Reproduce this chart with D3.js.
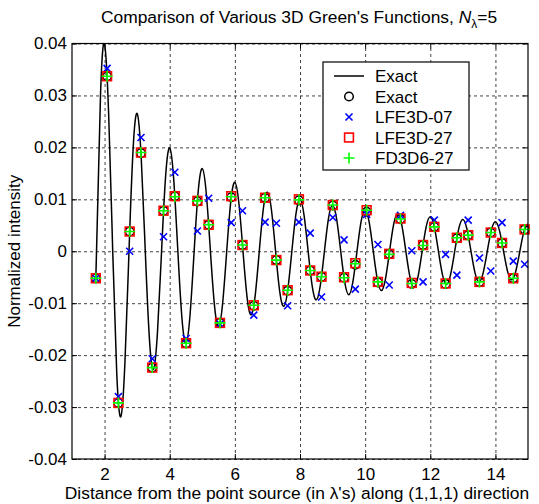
<!DOCTYPE html>
<html><head><meta charset="utf-8">
<script src="https://cdn.jsdelivr.net/npm/d3@7"></script>
<style>
body{margin:0;background:#fff}
svg{display:block}
text{font-family:"Liberation Sans",Arial,Helvetica,sans-serif;fill:#000}
</style>
</head><body>
<svg id="chart" width="539" height="504"></svg>
<script>
// ---------------- data ----------------
const xTicks = [2, 4, 6, 8, 10, 12, 14];
const xTickLabels = ["2", "4", "6", "8", "10", "12", "14"];
const yTicks = [-0.04, -0.03, -0.02, -0.01, 0, 0.01, 0.02, 0.03, 0.04];
const yTickLabels = ["-0.04", "-0.03", "-0.02", "-0.01", "0", "0.01", "0.02", "0.03", "0.04"];

// exact curve (continuous line)
const curveX = [1.732,
  1.875, 2, 2.125, 2.25, 2.375, 2.5, 2.625, 2.75,
  2.875, 3, 3.125, 3.25, 3.375, 3.5, 3.625, 3.75,
  3.875, 4, 4.125, 4.25, 4.375, 4.5, 4.625, 4.75,
  4.875, 5, 5.125, 5.25, 5.375, 5.5, 5.625, 5.75,
  5.875, 6, 6.125, 6.25, 6.375, 6.5, 6.625, 6.75,
  6.875, 7, 7.125, 7.25, 7.375, 7.5, 7.625, 7.75,
  7.875, 8, 8.125, 8.25, 8.375, 8.5, 8.625, 8.75,
  8.875, 9, 9.125, 9.25, 9.375, 9.5, 9.625, 9.75,
  9.875, 10, 10.125, 10.25, 10.375, 10.5, 10.625, 10.75,
  10.875, 11, 11.125, 11.25, 11.375, 11.5, 11.625, 11.75,
  11.875, 12, 12.125, 12.25, 12.375, 12.5, 12.625, 12.75,
  12.875, 13, 13.125, 13.25, 13.375, 13.5, 13.625, 13.75,
  13.875, 14, 14.125, 14.25, 14.375, 14.5, 14.625, 14.75,
  14.875, 15];
const curveY = [-0.00517,
  0.030011, 0.039789, 0.026480, 0, -0.023693, -0.031831, -0.021436, 0,
  0.019572, 0.026526, 0.018006, 0, -0.016673, -0.022736, -0.015523, 0,
  0.014521, 0.019894, 0.013641, 0, -0.012862, -0.017684, -0.012166, 0,
  0.011542, 0.015916, 0.010980, 0, -0.010469, -0.014469, -0.010003, 0,
  0.009578, 0.013263, 0.009187, 0, -0.008827, -0.012243, -0.008494, 0,
  0.008185, 0.011368, 0.007898, 0, -0.007630, -0.010610, -0.007380, 0,
  0.007145, 0.009947, 0.006926, 0, -0.006719, -0.009362, -0.006524, 0,
  0.006340, 0.008842, 0.006167, 0, -0.006002, -0.008377, -0.005846, 0,
  0.005698, 0.007958, 0.005558, 0, -0.005424, -0.007579, -0.005296, 0,
  0.005174, 0.007234, 0.005058, 0, -0.004947, -0.006920, -0.004840, 0,
  0.004739, 0.006631, 0.004641, 0, -0.004547, -0.006366, -0.004457, 0,
  0.004370, 0.006121, 0.004287, 0, -0.004207, -0.005895, -0.004130, 0,
  0.004056, 0.005684, 0.003984, 0, -0.003914, -0.005488, -0.003847, 0,
  0.003783, 0.005305];

// sample positions along (1,1,1)
const sampleX = [1.732, 2.078, 2.425, 2.771, 3.118, 3.464, 3.810, 4.157, 4.503, 4.850,
  5.196, 5.543, 5.889, 6.235, 6.582, 6.928, 7.275, 7.621, 7.967, 8.314,
  8.660, 9.007, 9.353, 9.699, 10.046, 10.392, 10.739, 11.085, 11.432, 11.778,
  12.124, 12.471, 12.817, 13.164, 13.510, 13.856, 14.203, 14.549, 14.896];
const exactPts = [-0.0052, 0.0337, -0.0292, 0.0038, 0.0189, -0.0224, 0.0078, 0.0106, -0.0177, 0.0096,
  0.0051, -0.0138, 0.0104, 0.0012, -0.0105, 0.0103, -0.0017, -0.0076, 0.0098, -0.0037,
  -0.0049, 0.0088, -0.0051, -0.0026, 0.0076, -0.0060, -0.0005, 0.0062, -0.0063, 0.0012,
  0.0047, -0.0063, 0.0025, 0.0031, -0.0059, 0.0036, 0.0016, -0.0052, 0.0042];
const lfe07 = [-0.0052, 0.0352, -0.0280, 0.0000, 0.0219, -0.0207, 0.0028, 0.0152, -0.0168, 0.0039,
  0.0102, -0.0140, 0.0055, 0.0078, -0.0123, 0.0056, 0.0054, -0.0105, 0.0056, 0.0035,
  -0.0088, 0.0065, 0.0022, -0.0073, 0.0071, 0.0013, -0.0065, 0.0069, 0.0001, -0.0059,
  0.0060, -0.0006, -0.0046, 0.0060, -0.0013, -0.0038, 0.0055, -0.0019, -0.0025];
const lfe27 = [-0.0052, 0.0337, -0.0292, 0.0038, 0.0190, -0.0224, 0.0078, 0.0106, -0.0177, 0.0097,
  0.0051, -0.0138, 0.0106, 0.0012, -0.0104, 0.0103, -0.0017, -0.0075, 0.0100, -0.0037,
  -0.0049, 0.0089, -0.0050, -0.0023, 0.0079, -0.0059, -0.0005, 0.0063, -0.0061, 0.0012,
  0.0047, -0.0062, 0.0026, 0.0031, -0.0059, 0.0036, 0.0016, -0.0052, 0.0042];
const fd27 = [-0.0052, 0.0337, -0.0292, 0.0038, 0.0190, -0.0224, 0.0078, 0.0105, -0.0177, 0.0097,
  0.0051, -0.0138, 0.0105, 0.0012, -0.0104, 0.0103, -0.0017, -0.0075, 0.0099, -0.0037,
  -0.0049, 0.0089, -0.0051, -0.0024, 0.0079, -0.0059, -0.0006, 0.0062, -0.0062, 0.0011,
  0.0047, -0.0062, 0.0026, 0.0031, -0.0059, 0.0036, 0.0016, -0.0052, 0.0042];

const legendLabels = ["Exact", "Exact", "LFE3D-07", "LFE3D-27", "FD3D6-27"];

// ---------------- layout ----------------
const svg = d3.select("#chart");
const L = 72, R = 528, T = 43.5, B = 459;
const x = d3.scaleLinear().domain([1, 15]).range([L, R]);
const y = d3.scaleLinear().domain([-0.04, 0.04]).range([B, T]);
const W = R - L, H = B - T;

svg.append("rect").attr("x", L).attr("y", T).attr("width", W).attr("height", H).attr("fill", "#fff");

// grid
const gx = svg.append("g").attr("transform", `translate(0,${B})`)
  .call(d3.axisBottom(x).tickValues(xTicks).tickSize(-H).tickFormat(""));
const gy = svg.append("g").attr("transform", `translate(${L},0)`)
  .call(d3.axisLeft(y).tickValues(yTicks).tickSize(-W).tickFormat(""));
[gx, gy].forEach(g => {
  g.select(".domain").remove();
  g.selectAll("line").attr("stroke", "#111").attr("stroke-width", 0.8).attr("stroke-dasharray", "3,3");
});

// tick marks on all sides
const tk = 5;
const axB = svg.append("g").attr("transform", `translate(0,${B})`)
  .call(d3.axisBottom(x).tickValues(xTicks).tickSizeInner(-tk).tickSizeOuter(0).tickPadding(9)
    .tickFormat((d, i) => xTickLabels[i]));
const axL = svg.append("g").attr("transform", `translate(${L},0)`)
  .call(d3.axisLeft(y).tickValues(yTicks).tickSizeInner(-tk).tickSizeOuter(0).tickPadding(5)
    .tickFormat((d, i) => yTickLabels[i]));
const axT = svg.append("g").attr("transform", `translate(0,${T})`)
  .call(d3.axisTop(x).tickValues(xTicks).tickSizeInner(-tk).tickSizeOuter(0).tickFormat(""));
const axR = svg.append("g").attr("transform", `translate(${R},0)`)
  .call(d3.axisRight(y).tickValues(yTicks).tickSizeInner(-tk).tickSizeOuter(0).tickFormat(""));
[axB, axL, axT, axR].forEach(g => {
  g.select(".domain").remove();
  g.selectAll("line").attr("stroke", "#000").attr("stroke-width", 1);
  g.selectAll("text").attr("font-size", "17px").attr("font-family", "Liberation Sans, Arial, sans-serif").attr("fill", "#000");
});

// clip
svg.append("clipPath").attr("id", "clip").append("rect")
  .attr("x", L).attr("y", T).attr("width", W).attr("height", H);

// exact line
const linePts = curveX.map((v, i) => [v, curveY[i]]);
svg.append("path").attr("clip-path", "url(#clip)")
  .attr("d", d3.line().x(d => x(d[0])).y(d => y(d[1])).curve(d3.curveNatural)(linePts))
  .attr("fill", "none").attr("stroke", "#000").attr("stroke-width", 1.5);

// markers
const mk = svg.append("g");
function circ(g, cx, cy) {
  g.append("circle").attr("cx", cx).attr("cy", cy).attr("r", 4.3)
    .attr("fill", "none").attr("stroke", "#000").attr("stroke-width", 1.5);
}
function cross(g, cx, cy) {
  const s = 3.5;
  g.append("path").attr("d", `M${cx - s},${cy - s}L${cx + s},${cy + s}M${cx - s},${cy + s}L${cx + s},${cy - s}`)
    .attr("stroke", "#0000ff").attr("stroke-width", 1.6).attr("fill", "none");
}
function square(g, cx, cy) {
  const s = 4.4;
  g.append("rect").attr("x", cx - s).attr("y", cy - s).attr("width", 2 * s).attr("height", 2 * s)
    .attr("fill", "none").attr("stroke", "#ff0000").attr("stroke-width", 1.6);
}
function plus(g, cx, cy) {
  const s = 5.5;
  g.append("path").attr("d", `M${cx - s},${cy}L${cx + s},${cy}M${cx},${cy - s}L${cx},${cy + s}`)
    .attr("stroke", "#00ff00").attr("stroke-width", 1.6).attr("fill", "none");
}
sampleX.forEach((v, i) => circ(mk, x(v), y(exactPts[i])));
sampleX.forEach((v, i) => cross(mk, x(v), y(lfe07[i])));
sampleX.forEach((v, i) => square(mk, x(v), y(lfe27[i])));
sampleX.forEach((v, i) => plus(mk, x(v), y(fd27[i])));

// frame
svg.append("rect").attr("x", L).attr("y", T).attr("width", W).attr("height", H)
  .attr("fill", "none").attr("stroke", "#000").attr("stroke-width", 1.2);

// title
const title = svg.append("text").attr("x", 299).attr("y", 23).attr("text-anchor", "middle")
  .attr("font-size", "17.4px");
title.append("tspan").text("Comparison of Various 3D Green's Functions, ");
title.append("tspan").attr("font-style", "italic").text("N");
title.append("tspan").attr("font-size", "12px").attr("dy", 5).text("λ");
title.append("tspan").attr("dy", -5).text("=5");

// axis labels
svg.append("text").attr("x", 297).attr("y", 499).attr("text-anchor", "middle")
  .attr("font-size", "17.4px").text("Distance from the point source (in λ's) along (1,1,1) direction");
svg.append("text").attr("transform", `translate(20,${(T + B) / 2}) rotate(-90)`).attr("text-anchor", "middle")
  .attr("font-size", "17px").text("Normalized intensity");

// legend
const lg = svg.append("g");
lg.append("rect").attr("x", 323).attr("y", 62).attr("width", 146).attr("height", 108)
  .attr("fill", "#fff").attr("stroke", "#000").attr("stroke-width", 1.2);
const rowY = d3.scaleLinear().domain([0, 4]).range([76, 158]);
legendLabels.forEach((lab, i) => {
  const cy = rowY(i);
  if (i === 0) lg.append("line").attr("x1", 334).attr("x2", 364).attr("y1", cy).attr("y2", cy)
    .attr("stroke", "#000").attr("stroke-width", 1.5);
  if (i === 1) circ(lg, 349, cy);
  if (i === 2) cross(lg, 349, cy);
  if (i === 3) square(lg, 349, cy);
  if (i === 4) plus(lg, 349, cy);
  lg.append("text").attr("x", 375).attr("y", cy + 6).attr("font-size", "17px").text(lab);
});
</script>
</body></html>
